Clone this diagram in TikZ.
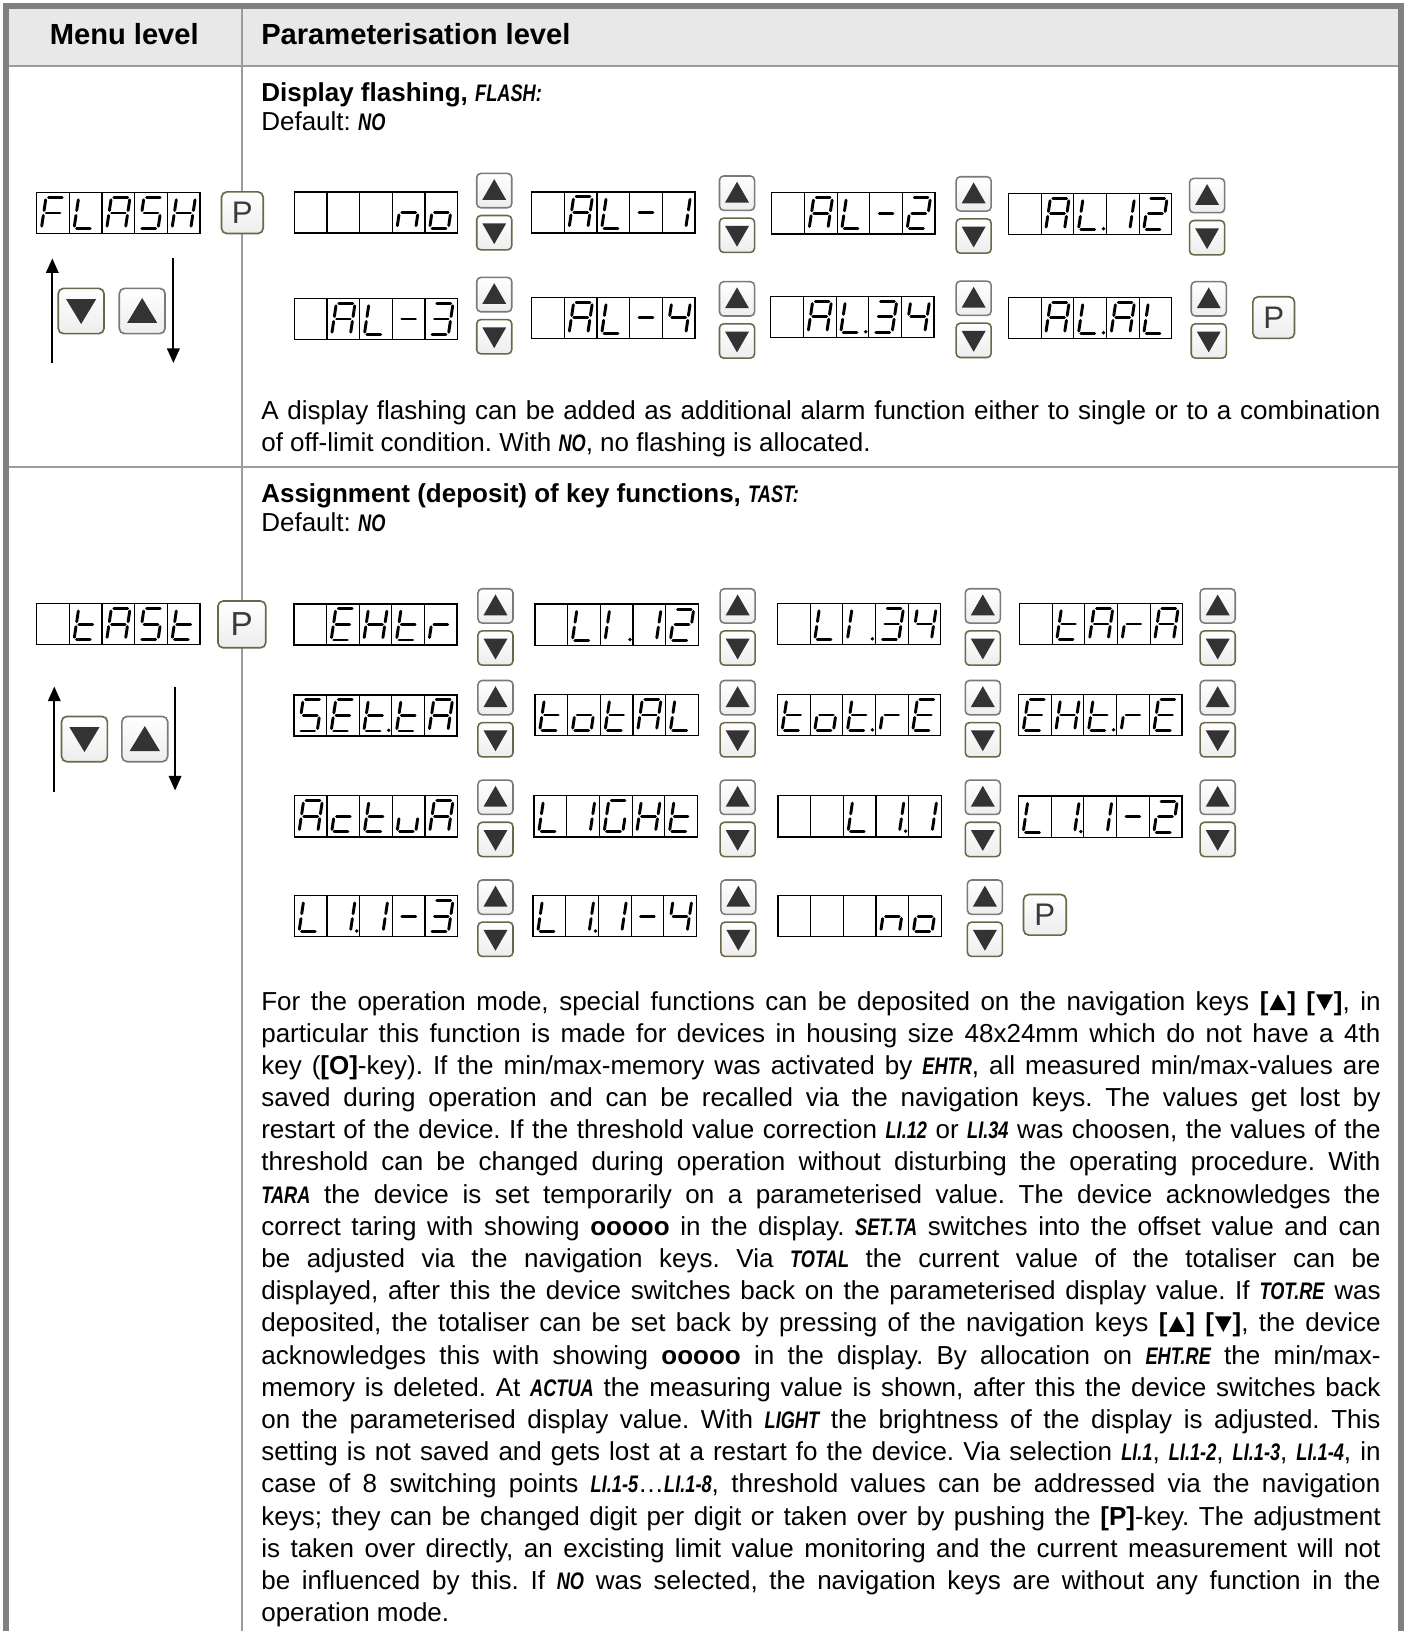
\documentclass[tikz,border=0pt]{standalone}
\usepackage{fontspec}
\setmainfont{Liberation Sans}
\newfontfamily\lcdfont{Liberation Sans}[FakeStretch=0.76,Scale=0.92]
\usetikzlibrary{arrows.meta}
\frenchspacing
\definecolor{bordergray}{HTML}{808080}
\definecolor{linegray}{HTML}{9C9C9C}
\definecolor{headfill}{HTML}{E8E8E8}
\definecolor{keygray}{HTML}{7A7A7A}
\definecolor{keyolive}{HTML}{6B6748}
\definecolor{tricol}{HTML}{333333}
\definecolor{ptext}{HTML}{3A3A3A}
\newcommand\lcd[1]{{\lcdfont\bfseries\itshape #1}}
\newcommand\uptri{\kern1pt\tikz[baseline=0pt]\fill (0pt,0pt) -- (16pt,0pt) -- (8pt,15pt) -- cycle;\kern1pt}
\newcommand\dntri{\kern1pt\tikz[baseline=0pt]\fill (0pt,15pt) -- (16pt,15pt) -- (8pt,0pt) -- cycle;\kern1pt}
\newcommand\bodyfont{\fontsize{25}{31}\selectfont}
\newcommand\headfont{\fontsize{28}{32}\selectfont\bfseries}
% seven segment digit definitions
\newcommand\svF{a,f,e,g}
\newcommand\svL{f,e,d}
\newcommand\svLp{f,e,d,p}
\newcommand\svA{a,b,c,e,f,g}
\newcommand\svS{a,f,g,c,d}
\newcommand\svH{b,c,e,f,g}
\newcommand\svn{c,e,g}
\newcommand\svo{c,d,e,g}
\newcommand\svm{g}
\newcommand\svone{b,c}
\newcommand\svonep{b,c,p}
\newcommand\svIp{e,f,p}
\newcommand\svtwo{a,b,g,e,d}
\newcommand\svthree{a,b,g,c,d}
\newcommand\svfour{f,g,b,c}
\newcommand\svt{d,e,f,g}
\newcommand\svtp{d,e,f,g,p}
\newcommand\svE{a,d,e,f,g}
\newcommand\svr{e,g}
\newcommand\svG{a,f,e,d,c}
\newcommand\svc{d,e,g}
\newcommand\svu{c,d,e}
\newcommand\svz{z}
\newcommand\segxa[2]{\draw[segline,shift={(#1,#2)}] (-6.75,-15) -- (11.25,-15);}
\newcommand\segxb[2]{\draw[segline,shift={(#1,#2)}] (11.25,-15) -- (9,0);}
\newcommand\segxc[2]{\draw[segline,shift={(#1,#2)}] (9,0) -- (6.75,15);}
\newcommand\segxd[2]{\draw[segline,shift={(#1,#2)}] (-11.25,15) -- (6.75,15);}
\newcommand\segxe[2]{\draw[segline,shift={(#1,#2)}] (-9,0) -- (-11.25,15);}
\newcommand\segxf[2]{\draw[segline,shift={(#1,#2)}] (-6.75,-15) -- (-9,0);}
\newcommand\segxg[2]{\draw[segline,shift={(#1,#2)}] (-9,0) -- (9,0);}
\newcommand\segxp[2]{\fill[shift={(#1,#2)}] (12.8,14.3) circle[radius=1.8pt];}
\newcommand\segxz[2]{}
\newcommand\segdigit[3]{\foreach \s in #3 {\csname segx\s\endcsname{#1}{#2}}}
\newcommand\lcddisp[8]{%
  \node[dispbox] (#1) at ({#2+78.5},{#3+19.75}) {};
  \foreach \k in {1,2,3,4} {\draw[cellsep] ({#2+31.4*\k},#3) -- ({#2+31.4*\k},{#3+39.5});}
  \segdigit{#2+15.7}{#3+19.75}{#4}%
  \segdigit{#2+47.1}{#3+19.75}{#5}%
  \segdigit{#2+78.5}{#3+19.75}{#6}%
  \segdigit{#2+109.9}{#3+19.75}{#7}%
  \segdigit{#2+141.3}{#3+19.75}{#8}%
}
\newcommand\keypair[3]{%
  \node[skey,draw=keygray] (#1u) at ({#2+16.85},{#3+16.5}) {};
  \fill[tricol,shift={({#2+16.85},{#3+16.5})}] (-11.5,9) -- (11.5,9) -- (0,-11) -- cycle;
  \node[skey,draw=keyolive] (#1d) at ({#2+16.85},{#3+57}) {};
  \fill[tricol,shift={({#2+16.85},{#3+57})}] (-11.5,-9) -- (11.5,-9) -- (0,11) -- cycle;
}
\newcommand\bigkeys[4]{%
  \node[bkey,draw=keyolive] (#1d) at (#2,#4) {};
  \fill[tricol,shift={(#2,#4)}] (-14.5,-11.5) -- (14.5,-11.5) -- (0,12.5) -- cycle;
  \node[bkey,draw=keygray] (#1u) at (#3,#4) {};
  \fill[tricol,shift={(#3,#4)}] (-14.5,11.5) -- (14.5,11.5) -- (0,-12.5) -- cycle;
}
\newcommand\jline[3]{\node[bodyline] (#1) at (251,#2) {\makebox[1076pt][s]{#3}};}
\newcommand\lline[3]{\node[bodyline] (#1) at (251,#2) {#3};}
\begin{document}
\begin{tikzpicture}[x=1pt,y=-1pt,
  segline/.style={line width=2.8pt,line cap=round,shorten <=2.4pt,shorten >=2.4pt,black},
  dispbox/.style={draw,line width=1.3pt,minimum width=157pt,minimum height=39.5pt,inner sep=0pt,fill=white},
  cellsep/.style={line width=1.1pt},
  skey/.style={rounded corners=4pt,minimum width=33.7pt,minimum height=33pt,inner sep=0pt,line width=1.5pt,top color=white,bottom color=gray!14},
  bkey/.style={rounded corners=5pt,minimum width=44pt,minimum height=43.5pt,inner sep=0pt,line width=1.6pt,top color=white,bottom color=gray!14},
  pkey/.style={draw=keyolive,rounded corners=5pt,line width=1.6pt,top color=white,bottom color=gray!14,inner sep=0pt,text=ptext},
  marr/.style={line width=1.9pt,-{Triangle[length=14pt,width=12pt]}},
  bodyline/.style={anchor=base west,inner sep=0pt,font=\bodyfont},
  headtxt/.style={inner sep=0pt,font=\headfont}]
\useasboundingbox (0,0) rectangle (1350,1568);
% frame
\fill[headfill] (6,6) rectangle (1346.5,63.5);
\draw[linegray,line width=2pt] (6,63.5) -- (1346.5,63.5);
\draw[linegray,line width=2.2pt] (6,448.8) -- (1346.5,448.8);
\draw[linegray,line width=2.2pt] (232.5,6) -- (232.5,1580);
\draw[bordergray,line width=5.7pt,line join=miter] (5.8,1580) -- (5.8,6) -- (1346.5,6) -- (1346.5,1580);
% header
\node[headtxt,anchor=base] (hm) at (119.5,43) {Menu level};
\node[headtxt,anchor=base west] (hp) at (251,43) {Parameterisation level};
% ---------- section 1
\lline{h1}{97.5}{\textbf{Display flashing, \lcd{FLASH:}}}
\lline{h1d}{125.5}{Default: \lcd{NO}}
\lcddisp{mflash}{35.3}{185}{\svF}{\svL}{\svA}{\svS}{\svH}
\node[pkey,minimum width=40pt,minimum height=40pt,font=\fontsize{30}{30}\selectfont] (p1) at (233,204.5) {P};
\bigkeys{mka}{78}{136.7}{299}
\coordinate (a1s) at (50.3,349);
\coordinate (a1e) at (50.3,248.4);
\coordinate (b1s) at (166.7,248.4);
\coordinate (b1e) at (166.7,349);
\draw[marr] (a1s) -- (a1e);
\draw[marr] (b1s) -- (b1e);
\lcddisp{d11}{283}{184.5}{\svz}{\svz}{\svz}{\svn}{\svo}
\lcddisp{d12}{511.2}{184.5}{\svz}{\svA}{\svL}{\svm}{\svone}
\lcddisp{d13}{742}{185.3}{\svz}{\svA}{\svL}{\svm}{\svtwo}
\lcddisp{d14}{969.5}{185.9}{\svz}{\svA}{\svLp}{\svone}{\svtwo}
\lcddisp{d15}{283}{286.9}{\svz}{\svA}{\svL}{\svm}{\svthree}
\lcddisp{d16}{511.2}{285.9}{\svz}{\svA}{\svL}{\svm}{\svfour}
\lcddisp{d17}{741}{284.8}{\svz}{\svA}{\svLp}{\svthree}{\svfour}
\lcddisp{d18}{969.5}{285.9}{\svz}{\svA}{\svLp}{\svA}{\svL}
\keypair{k11}{458.3}{166.7}
\keypair{k12}{691.7}{169.2}
\keypair{k13}{919.2}{169.9}
\keypair{k14}{1143.6}{171.5}
\keypair{k15}{458.3}{266.7}
\keypair{k16}{691.7}{270.8}
\keypair{k17}{919.2}{270.2}
\keypair{k18}{1145.2}{270.8}
\node[pkey,minimum width=40pt,minimum height=40pt,font=\fontsize{30}{30}\selectfont] (p2) at (1224.5,305.3) {P};
\jline{s1a}{403}{A display flashing can be added as additional alarm function either to single or to a combination}
\lline{s1b}{434}{of off-limit condition. With \lcd{NO}, no flashing is allocated.}
% ---------- section 2
\lline{h2}{483.5}{\textbf{Assignment (deposit) of key functions, \lcd{TAST:}}}
\lline{h2d}{510.5}{Default: \lcd{NO}}
\lcddisp{mtast}{35.3}{580.3}{\svz}{\svt}{\svA}{\svS}{\svt}
\node[pkey,minimum width=46pt,minimum height=45pt,font=\fontsize{32}{32}\selectfont] (p3) at (232.5,600.3) {P};
\bigkeys{mkb}{81.2}{139.2}{710.5}
\coordinate (a2s) at (52.2,761);
\coordinate (a2e) at (52.2,660);
\coordinate (b2s) at (168.3,660);
\coordinate (b2e) at (168.3,760);
\draw[marr] (a2s) -- (a2e);
\draw[marr] (b2s) -- (b2e);
\lcddisp{e11}{282.5}{580.5}{\svz}{\svE}{\svH}{\svt}{\svr}
\lcddisp{e12}{514.4}{580.8}{\svz}{\svL}{\svIp}{\svone}{\svtwo}
\lcddisp{e13}{747.4}{580.1}{\svz}{\svL}{\svIp}{\svthree}{\svfour}
\lcddisp{e14}{980.1}{580.1}{\svz}{\svt}{\svA}{\svr}{\svA}
\lcddisp{e21}{282.5}{668}{\svS}{\svE}{\svtp}{\svt}{\svA}
\lcddisp{e22}{514.4}{667.6}{\svt}{\svo}{\svt}{\svA}{\svL}
\lcddisp{e23}{747.4}{667.6}{\svt}{\svo}{\svtp}{\svr}{\svE}
\lcddisp{e24}{979.2}{667.6}{\svE}{\svH}{\svtp}{\svr}{\svE}
\lcddisp{e31}{283}{765}{\svA}{\svc}{\svt}{\svu}{\svA}
\lcddisp{e32}{513.5}{765}{\svL}{\svone}{\svG}{\svH}{\svt}
\lcddisp{e33}{748}{765}{\svz}{\svz}{\svL}{\svonep}{\svone}
\lcddisp{e34}{979.2}{765.4}{\svL}{\svonep}{\svone}{\svm}{\svtwo}
\lcddisp{e41}{283}{861}{\svL}{\svonep}{\svone}{\svm}{\svthree}
\lcddisp{e42}{512.5}{861}{\svL}{\svonep}{\svone}{\svm}{\svfour}
\lcddisp{e43}{748}{861}{\svz}{\svz}{\svz}{\svn}{\svo}
\keypair{q11}{459.5}{566}
\keypair{q12}{692.3}{566}
\keypair{q13}{928}{566}
\keypair{q14}{1153.8}{566}
\keypair{q21}{459.5}{654.2}
\keypair{q22}{692.3}{654.2}
\keypair{q23}{928}{654.2}
\keypair{q24}{1153.8}{654.2}
\keypair{q31}{459.5}{750}
\keypair{q32}{692.3}{750}
\keypair{q33}{928}{750}
\keypair{q34}{1153.8}{750}
\keypair{q41}{459.5}{846}
\keypair{q42}{693}{846}
\keypair{q43}{930}{846}
\node[pkey,minimum width=41pt,minimum height=39pt,font=\fontsize{30}{30}\selectfont] (p4) at (1004.5,879.5) {P};
\jline{t01}{971}{For the operation mode, special functions can be deposited on the navigation keys \textbf{[\uptri] [\dntri]}, in}
\jline{t02}{1001.95}{particular this function is made for devices in housing size 48x24mm which do not have a 4th}
\jline{t03}{1032.9}{key (\textbf{[O]}-key). If the min/max-memory was activated by \lcd{EHTR}, all measured min/max-values are}
\jline{t04}{1063.85}{saved during operation and can be recalled via the navigation keys. The values get lost by}
\jline{t05}{1094.8}{restart of the device. If the threshold value correction \lcd{LI.12} or \lcd{LI.34} was choosen, the values of the}
\jline{t06}{1125.75}{threshold can be changed during operation without disturbing the operating procedure. With}
\jline{t07}{1156.7}{\lcd{TARA} the device is set temporarily on a parameterised value. The device acknowledges the}
\jline{t08}{1187.65}{correct taring with showing \textbf{ooooo} in the display. \lcd{SET.TA} switches into the offset value and can}
\jline{t09}{1218.6}{be adjusted via the navigation keys. Via \lcd{TOTAL} the current value of the totaliser can be}
\jline{t10}{1249.55}{displayed, after this the device switches back on the parameterised display value. If \lcd{TOT.RE} was}
\jline{t11}{1280.5}{deposited, the totaliser can be set back by pressing of the navigation keys \textbf{[\uptri] [\dntri]}, the device}
\jline{t12}{1311.45}{acknowledges this with showing \textbf{ooooo} in the display. By allocation on \lcd{EHT.RE} the min/max-}
\jline{t13}{1342.4}{memory is deleted. At \lcd{ACTUA} the measuring value is shown, after this the device switches back}
\jline{t14}{1373.35}{on the parameterised display value. With \lcd{LIGHT} the brightness of the display is adjusted. This}
\jline{t15}{1404.3}{setting is not saved and gets lost at a restart fo the device. Via selection \lcd{LI.1}, \lcd{LI.1-2}, \lcd{LI.1-3}, \lcd{LI.1-4}, in}
\jline{t16}{1435.25}{case of 8 switching points \lcd{LI.1-5}…\lcd{LI.1-8}, threshold values can be addressed via the navigation}
\jline{t17}{1466.2}{keys; they can be changed digit per digit or taken over by pushing the \textbf{[P]}-key. The adjustment}
\jline{t18}{1497.15}{is taken over directly, an excisting limit value monitoring and the current measurement will not}
\jline{t19}{1528.1}{be influenced by this. If \lcd{NO} was selected, the navigation keys are without any function in the}
\lline{t20}{1559.05}{operation mode.}
\end{tikzpicture}
\end{document}
